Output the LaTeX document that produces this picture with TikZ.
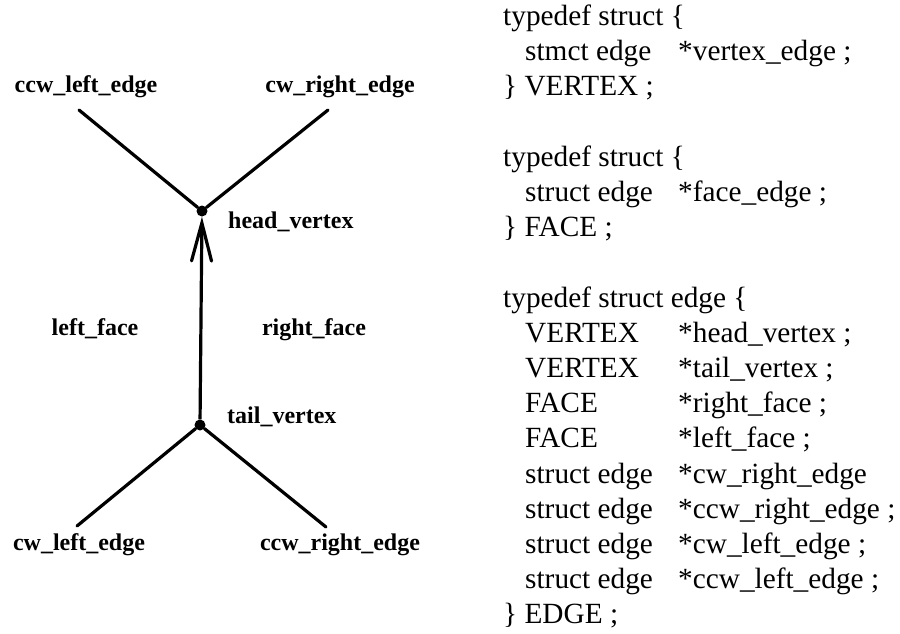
\documentclass[tikz,border=0pt]{standalone}
\usepackage{fontspec}
\setmainfont{Liberation Serif}
\usetikzlibrary{arrows.meta}
\begin{document}
\begin{tikzpicture}[x=1pt,y=-1pt,
  edgeline/.style={line width=3.2pt,line cap=round},
  vdot/.style={circle,fill=black,inner sep=0pt,minimum size=11pt},
  lab/.style={font=\fontsize{24}{28}\selectfont\bfseries,inner sep=0pt,anchor=base},
  labw/.style={lab,anchor=base west},
  code/.style={font=\fontsize{29.3}{35}\selectfont,inner sep=0pt,anchor=base west}]
\useasboundingbox (0,0) rectangle (900,633);
% vertices
\node[vdot] (hv) at (202,211) {};
\node[vdot] (tv) at (200,425) {};
\coordinate (ulend) at (79,110);
\coordinate (urend) at (328,110);
\coordinate (llend) at (77,526);
\coordinate (lrend) at (326,527);
\draw[edgeline] (ulend) -- (hv);
\draw[edgeline] (urend) -- (hv);
\draw[edgeline] (llend) -- (tv);
\draw[edgeline] (lrend) -- (tv);
\draw[line width=3.2pt,-{Straight Barb[length=38pt,width=20pt,line cap=round]}] (tv) -- (hv);
% labels
\node[lab] (lccwl) at (86,92.5) {ccw\_left\_edge};
\node[lab] (lcwr) at (340,92.5) {cw\_right\_edge};
\node[labw] (lhv) at (228,228.5) {head\_vertex};
\node[lab] (llf) at (95,335.5) {left\_face};
\node[lab] (lrf) at (314,335.5) {right\_face};
\node[labw] (ltv) at (227,423.5) {tail\_vertex};
\node[lab] (lcwl) at (79,550.5) {cw\_left\_edge};
\node[lab] (lccwr) at (340,550.5) {ccw\_right\_edge};
% code
\def\yy#1{25.5+35.2*#1}
\node[code] (c0) at (503,{\yy{0}}) {typedef struct \{};
\node[code] (c1a) at (525,{\yy{1}}) {stmct edge};
\node[code] (c1b) at (678,{\yy{1}}) {*vertex\_edge ;};
\node[code] (c2) at (503,{\yy{2}}) {\} VERTEX ;};
\node[code] (c4) at (503,{\yy{4}}) {typedef struct \{};
\node[code] (c5a) at (525,{\yy{5}}) {struct edge};
\node[code] (c5b) at (678,{\yy{5}}) {*face\_edge ;};
\node[code] (c6) at (503,{\yy{6}}) {\} FACE ;};
\node[code] (c8) at (503,{\yy{8}}) {typedef struct edge \{};
\node[code] (c9a) at (525,{\yy{9}}) {VERTEX};
\node[code] (c9b) at (678,{\yy{9}}) {*head\_vertex ;};
\node[code] (c10a) at (525,{\yy{10}}) {VERTEX};
\node[code] (c10b) at (678,{\yy{10}}) {*tail\_vertex ;};
\node[code] (c11a) at (525,{\yy{11}}) {FACE};
\node[code] (c11b) at (678,{\yy{11}}) {*right\_face ;};
\node[code] (c12a) at (525,{\yy{12}}) {FACE};
\node[code] (c12b) at (678,{\yy{12}}) {*left\_face ;};
\node[code] (c13a) at (525,{\yy{13}}) {struct edge};
\node[code] (c13b) at (678,{\yy{13}}) {*cw\_right\_edge};
\node[code] (c14a) at (525,{\yy{14}}) {struct edge};
\node[code] (c14b) at (678,{\yy{14}}) {*ccw\_right\_edge ;};
\node[code] (c15a) at (525,{\yy{15}}) {struct edge};
\node[code] (c15b) at (678,{\yy{15}}) {*cw\_left\_edge ;};
\node[code] (c16a) at (525,{\yy{16}}) {struct edge};
\node[code] (c16b) at (678,{\yy{16}}) {*ccw\_left\_edge ;};
\node[code] (c17) at (503,{\yy{17}}) {\} EDGE ;};
\end{tikzpicture}
\end{document}
